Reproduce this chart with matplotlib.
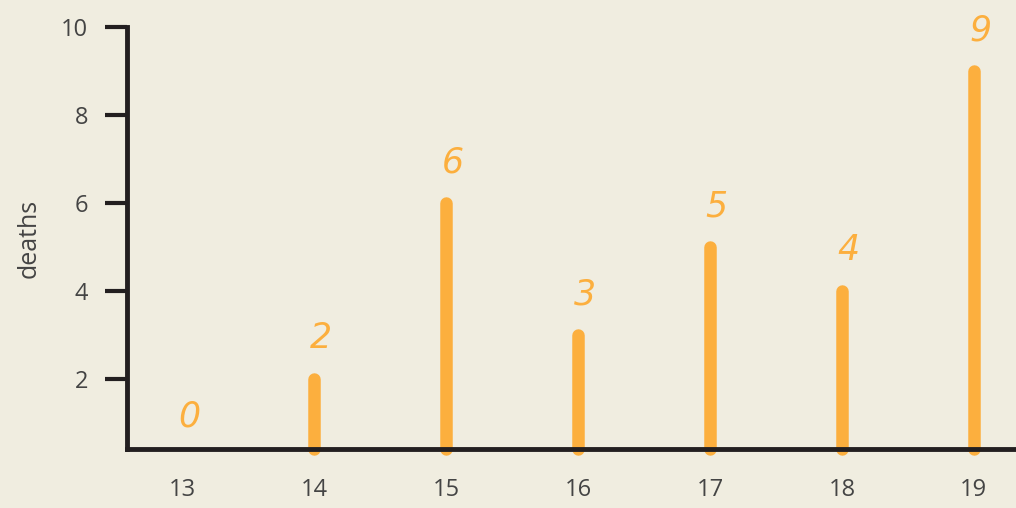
import matplotlib.pyplot as plt

# data
days = [13, 14, 15, 16, 17, 18, 19]
deaths = [0, 2, 6, 3, 5, 4, 9]
y_ticks = [2, 4, 6, 8, 10]

BG = '#F0EDE0'
BAR = '#FCAF3E'
INK = '#231F20'
TXT = '#444444'

plt.rcParams['font.family'] = ['Open Sans', 'DejaVu Sans']

fig = plt.figure(figsize=(10.16, 5.08), dpi=100)
fig.patch.set_facecolor(BG)
ax = fig.add_axes([0.125, 0.116, 0.875, 0.831])
ax.set_facecolor(BG)

y_min = 0.41
ax.set_xlim(12.58, 19.32)
ax.set_ylim(y_min, 10)

# bars drawn as thick round-capped strokes
for d, v in zip(days, deaths):
    if v > 0:
        ax.plot([d, d], [y_min, v], color=BAR, linewidth=9,
                solid_capstyle='round', clip_on=False, zorder=1)
    ax.text(d + 0.05, max(v, y_min) + 0.93 - (0.2 if v == 0 else 0), str(v),
            color=BAR, fontsize=25, fontstyle='italic', family='DejaVu Sans',
            fontweight='light', ha='center', va='center', zorder=3)

# axes styling
for s in ['top', 'right']:
    ax.spines[s].set_visible(False)
for s in ['left', 'bottom']:
    ax.spines[s].set_color(INK)
    ax.spines[s].set_linewidth(3.5)
    ax.spines[s].set_zorder(2)

ax.set_xticks(days)
ax.set_xticklabels([str(d) for d in days])
ax.set_yticks(y_ticks)
ax.tick_params(axis='x', length=0, pad=21, labelsize=17, labelcolor=TXT)
ax.tick_params(axis='y', length=16, width=3, color=INK, pad=12,
               labelsize=17, labelcolor=TXT)

ax.set_ylabel('deaths', fontsize=18, color=TXT, labelpad=14)

fig.savefig('out.png', dpi=100, facecolor=BG)
